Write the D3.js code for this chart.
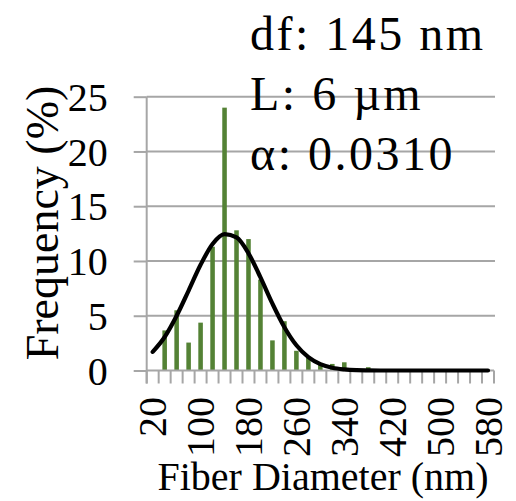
<!DOCTYPE html>
<html><head><meta charset="utf-8">
<script src="https://cdn.jsdelivr.net/npm/d3@7"></script>
<style>html,body{margin:0;padding:0;background:#fff;}</style>
</head><body>
<svg id="c" width="516" height="501"></svg>
<script>
const categories = [20,40,60,80,100,120,140,160,180,200,220,240,260,280,300,320,340,360,380,400,420,440,460,480,500,520,540,560,580];
const frequency = [0,3.66,5.5,2.55,4.37,11.3,24.0,12.8,12.0,8.3,2.75,4.5,1.8,1.15,0.5,0.6,0.75,0,0.3,0,0,0,0,0,0,0,0,0,0];
const fitCurve = [1.7,3.06,5.0,7.3,9.65,11.55,12.45,12.15,10.7,8.5,6.1,3.95,2.3,1.22,0.58,0.25,0.1,0.03,0.01,0,0,0,0,0,0,0,0,0,0];
const yTicks = [0,5,10,15,20,25];
const xTickLabels = [20,100,180,260,340,420,500,580];
const annotation = ["df: 145 nm","L: 6 \u00b5m","\u03b1: 0.0310"];
const xTitle = "Fiber Diameter (nm)";
const yTitle = "Frequency (%)";

const svg = d3.select("#c");
const font = "'Liberation Serif','Times New Roman',serif";
const L = 146.7, R = 494, T = 96.7, B = 370.5;
const gray = "#a6a6a6";

const x = d3.scaleBand().domain(categories).range([L, R]).paddingInner(0.62).paddingOuter(0.31);
const xs = d3.scaleBand().domain(categories).range([L, R]);
const y = d3.scaleLinear().domain([0, 25]).range([B, T]);

// gridlines
svg.append("g").selectAll("line").data(yTicks.filter(d => d > 0)).join("line")
  .attr("x1", L).attr("x2", R + 1).attr("y1", d => y(d)).attr("y2", d => y(d))
  .attr("stroke", gray).attr("stroke-width", 2);

// bars
svg.append("g").selectAll("rect").data(categories).join("rect")
  .attr("x", (d) => x(d)).attr("width", x.bandwidth())
  .attr("y", (d, i) => y(frequency[i])).attr("height", (d, i) => B - y(frequency[i]))
  .attr("fill", "#548235");

// y axis
const yAxis = d3.axisLeft(y).tickValues(yTicks).tickSize(13).tickPadding(26).tickFormat(d3.format("d"));
const gy = svg.append("g").attr("transform", `translate(${L},0)`).call(yAxis);
gy.select(".domain").remove();
gy.selectAll(".tick line").attr("stroke", gray).attr("stroke-width", 2);
gy.selectAll("text").attr("font-family", font).attr("font-size", 40).attr("fill", "#000").attr("dy", "0.34em");
svg.append("line").attr("x1", L).attr("x2", L).attr("y1", T).attr("y2", B + 13).attr("stroke", gray).attr("stroke-width", 2);

// x axis line and ticks at category boundaries
svg.append("line").attr("x1", L).attr("x2", R).attr("y1", B).attr("y2", B).attr("stroke", gray).attr("stroke-width", 2);
const bounds = categories.map(c => xs(c)).concat([xs(categories[categories.length-1]) + xs.bandwidth()]);
svg.append("g").selectAll("line").data(bounds).join("line")
  .attr("x1", d => d).attr("x2", d => d).attr("y1", B).attr("y2", B + 13)
  .attr("stroke", gray).attr("stroke-width", 2);

// x tick labels
svg.append("g").selectAll("text").data(xTickLabels).join("text")
  .attr("transform", d => `translate(${xs(d) + xs.bandwidth()/2},397) rotate(-90)`)
  .attr("text-anchor", "end").attr("dy", "0.34em")
  .attr("font-family", font).attr("font-size", 40).attr("fill", "#000")
  .text(d => d);

// fitted curve
const line = d3.line().x((d, i) => xs(categories[i]) + xs.bandwidth()/2).y(d => y(d)).curve(d3.curveMonotoneX);
svg.append("path").datum(fitCurve).attr("d", line)
  .attr("fill", "none").attr("stroke", "#000").attr("stroke-width", 4.2).attr("stroke-linecap", "round");

// axis titles
svg.append("text").attr("x", 323).attr("y", 490).attr("text-anchor", "middle")
  .attr("font-family", font).attr("font-size", 40).attr("fill", "#000").text(xTitle);
svg.append("text").attr("transform", "translate(58,223) rotate(-90)").attr("text-anchor", "middle")
  .attr("font-family", font).attr("font-size", 46).attr("fill", "#000").text(yTitle);

// annotation
svg.append("g").selectAll("text").data(annotation).join("text")
  .attr("x", 250).attr("y", (d, i) => 50 + i * 60)
  .attr("font-family", font).attr("font-size", 48).attr("letter-spacing", 2.5).attr("fill", "#000")
  .text(d => d);
</script>
</body></html>
